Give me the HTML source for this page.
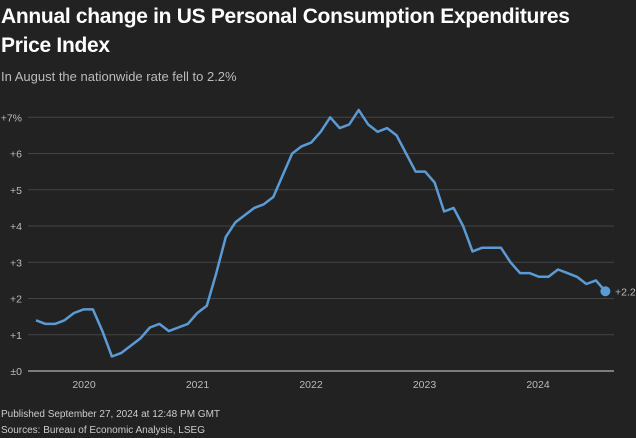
<!DOCTYPE html><html><head><style>
body{margin:0;background:#222;width:636px;height:438px;overflow:hidden;font-family:"Liberation Sans",sans-serif;color:#ddd}
.t{position:absolute;left:1px;top:2px;font-size:21px;font-weight:bold;color:#fff;line-height:29px;letter-spacing:-0.3px}
.s{position:absolute;left:1px;top:69px;font-size:13px;color:#bbb}
.f{position:absolute;left:1px;font-size:10px;color:#ccc}
</style></head><body>
<div class="t">Annual change in US Personal Consumption Expenditures<br>Price Index</div>
<div class="s">In August the nationwide rate fell to 2.2%</div>
<svg width="636" height="438" style="position:absolute;left:0;top:0" id="c" font-family="Liberation Sans, sans-serif" font-size="10.5" fill="#bbb"></svg>
<div class="f" style="top:409px">Published September 27, 2024 at 12:48 PM GMT</div>
<div class="f" style="top:425px">Sources: Bureau of Economic Analysis, LSEG</div>
<script>
var d=[1.4,1.3,1.3,1.4,1.6,1.7,1.7,1.1,0.4,0.5,0.7,0.9,1.2,1.3,1.1,1.2,1.3,1.6,1.8,2.7,3.7,4.1,4.3,4.5,4.6,4.8,5.4,6.0,6.2,6.3,6.6,7.0,6.7,6.8,7.2,6.8,6.6,6.7,6.5,6.0,5.5,5.5,5.2,4.4,4.5,4.0,3.3,3.4,3.4,3.4,3.0,2.7,2.7,2.6,2.6,2.8,2.7,2.6,2.4,2.5,2.2];
var s='';function Y(v){return 371-v*36.25}
for(var i=1;i<=7;i++){s+='<line x1="28" x2="614" y1="'+Y(i)+'" y2="'+Y(i)+'" stroke="#444" stroke-width="1"/>';s+='<text x="22" y="'+(Y(i)+4)+'" text-anchor="end">+'+i+(i==7?'%':'')+'</text>'}
s+='<line x1="28" x2="614" y1="371" y2="371" stroke="#999" stroke-width="1.5"/><text x="22" y="375" text-anchor="end">±0</text>';
['2020','2021','2022','2023','2024'].forEach(function(t,k){s+='<text x="'+(84+k*113.5)+'" y="388" text-anchor="middle">'+t+'</text>'});
var p='';d.forEach(function(v,i){p+=(i?'L':'M')+(36+i*9.49).toFixed(1)+' '+Y(v).toFixed(1)});
s+='<path d="'+p+'" fill="none" stroke="#5b9bd5" stroke-width="2.5" stroke-linejoin="round"/>';
var lx=36+60*9.49;s+='<circle cx="'+lx+'" cy="'+Y(2.2)+'" r="5" fill="#5b9bd5"/><text x="615" y="'+(Y(2.2)+4)+'">+2.2</text>';
document.getElementById('c').innerHTML=s;
</script></body></html>
